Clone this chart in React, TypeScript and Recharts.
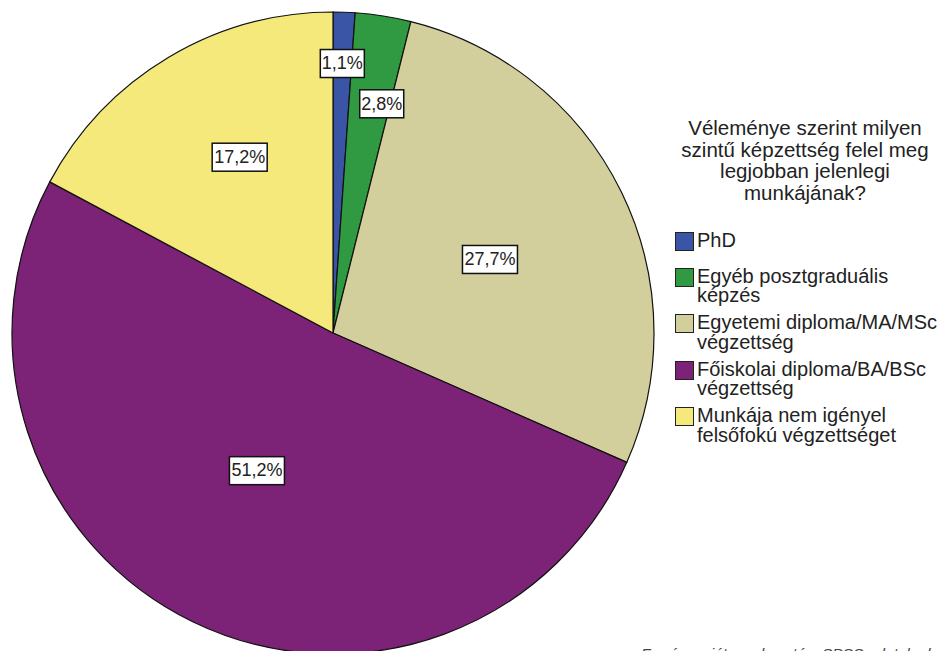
import { PieChart, Pie, Cell, Legend } from 'recharts';

const categories = [
  'PhD',
  'Egyéb posztgraduális képzés',
  'Egyetemi diploma/MA/MSc végzettség',
  'Főiskolai diploma/BA/BSc végzettség',
  'Munkája nem igényel felsőfokú végzettséget',
];
const legendLines = [
  ['PhD'],
  ['Egyéb posztgraduális', 'képzés'],
  ['Egyetemi diploma/MA/MSc', 'végzettség'],
  ['Főiskolai diploma/BA/BSc', 'végzettség'],
  ['Munkája nem igényel', 'felsőfokú végzettséget'],
];
const shares = [1.1, 2.8, 27.7, 51.2, 17.2];
const percentLabels = ['1,1%', '2,8%', '27,7%', '51,2%', '17,2%'];
const titleLines = ['Véleménye szerint milyen', 'szintű képzettség felel meg', 'legjobban jelenlegi', 'munkájának?'];

const COLORS = ['#3b55a6', '#2f9a41', '#d3cf9c', '#7c2277', '#f4e97a'];
// where each label box sits: share of the radius, and a small turn in degrees
const LABEL_R = [0.84, 0.73, 0.54, 0.49, 0.62];
const LABEL_TURN = [0, -3, -1, -3, -3];
const RAD = Math.PI / 180;
const FONT = '"Liberation Sans", Arial, sans-serif';

const data = categories.map((name, i) => ({ name, value: shares[i] }));

function BoxLabel(props: any) {
  const { cx, cy, midAngle, outerRadius, index } = props;
  const r = outerRadius * LABEL_R[index];
  const a = (midAngle + LABEL_TURN[index]) * RAD;
  const x = cx + r * Math.cos(-a);
  const y = cy + r * Math.sin(-a);
  const text = percentLabels[index];
  const w = text.length * 11;
  const h = 28;
  return (
    <g>
      <rect x={x - w / 2} y={y - h / 2} width={w} height={h} fill="#fff" stroke="#111" strokeWidth={1.5} />
      <text x={x} y={y + 1} textAnchor="middle" dominantBaseline="middle" fontSize={18} fontFamily={FONT} fill="#222">
        {text}
      </text>
    </g>
  );
}

function LegendBox() {
  return (
    <div style={{ fontFamily: FONT, fontSize: 20, color: '#222', lineHeight: '19.5px' }}>
      {legendLines.map((lines, i) => (
        <div key={i} style={{ display: 'flex', alignItems: 'flex-start', marginBottom: i === 0 ? 15.5 : 7.5 }}>
          <div
            style={{
              width: 17,
              height: 17,
              background: COLORS[i],
              border: '1.5px solid #222',
              marginRight: 3,
              marginTop: 1,
              flexShrink: 0,
            }}
          />
          <div>
            {lines.map((l, j) => (
              <div key={j}>{l}</div>
            ))}
          </div>
        </div>
      ))}
    </div>
  );
}

export default function App() {
  return (
    <div style={{ position: 'absolute', left: 0, top: 0, width: 946, height: 651, overflow: 'hidden', background: '#fff' }}>
      <div
        style={{
          position: 'absolute',
          left: 665,
          top: 117,
          width: 280,
          textAlign: 'center',
          fontFamily: FONT,
          fontSize: 20.5,
          lineHeight: '21.5px',
          color: '#222',
        }}
      >
        {titleLines.map((l, i) => (
          <div key={i}>{l}</div>
        ))}
      </div>
      <PieChart width={946} height={651} margin={{ top: 0, right: 0, bottom: 0, left: 0 }}>
        <Pie
          data={data}
          dataKey="value"
          nameKey="name"
          cx={333}
          cy={333}
          outerRadius={321}
          startAngle={90}
          endAngle={-270}
          stroke="#111"
          strokeWidth={1.2}
          label={BoxLabel}
          labelLine={false}
          isAnimationActive={false}
        >
          {data.map((d, i) => (
            <Cell key={d.name} fill={COLORS[i]} />
          ))}
        </Pie>
        <Legend
          layout="vertical"
          content={() => <LegendBox />}
          wrapperStyle={{ position: 'absolute', left: 675, top: 231, width: 271 }}
        />
      </PieChart>
      <div
        style={{
          position: 'absolute',
          left: 641,
          top: 645,
          fontFamily: FONT,
          fontStyle: 'italic',
          fontSize: 15.5,
          color: '#444',
          whiteSpace: 'nowrap',
        }}
      >
        Forrás: saját szerkesztés, SPSS adatok alapján
      </div>
    </div>
  );
}
